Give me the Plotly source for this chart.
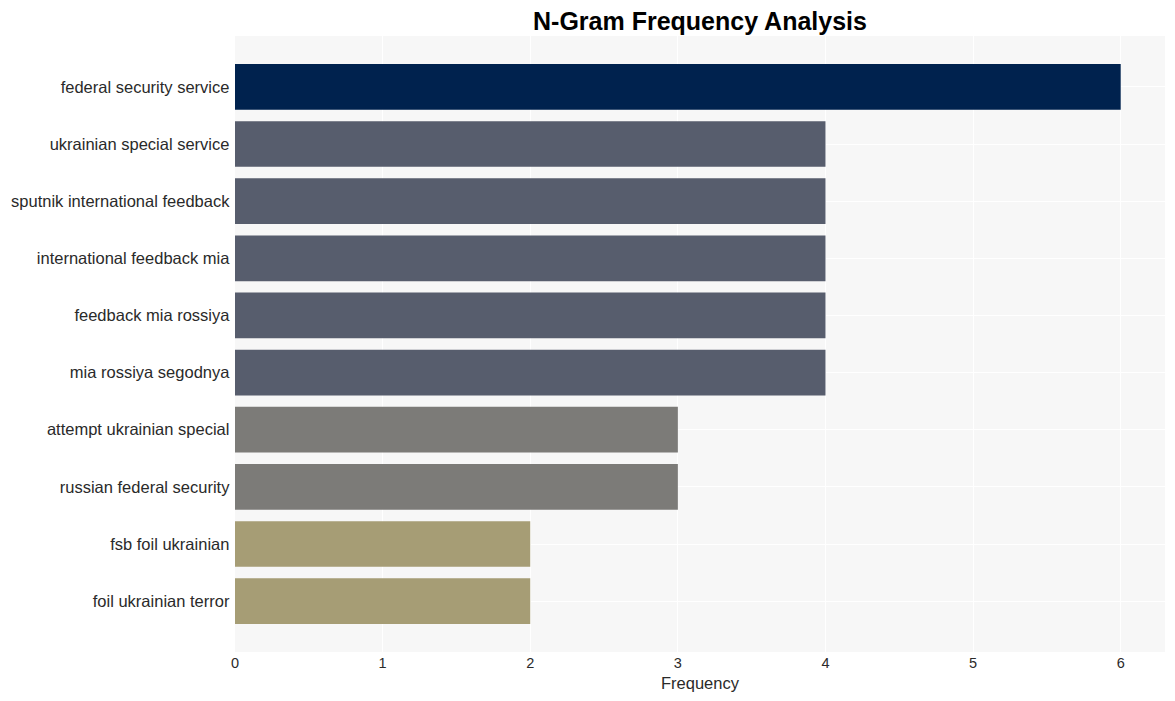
import plotly.graph_objects as go

ngrams = [
    "federal security service",
    "ukrainian special service",
    "sputnik international feedback",
    "international feedback mia",
    "feedback mia rossiya",
    "mia rossiya segodnya",
    "attempt ukrainian special",
    "russian federal security",
    "fsb foil ukrainian",
    "foil ukrainian terror",
]
frequency = [6, 4, 4, 4, 4, 4, 3, 3, 2, 2]

color_by_value = {6: "#00224e", 4: "#575d6d", 3: "#7c7b78", 2: "#a69d75"}
colors = [color_by_value[v] for v in frequency]

fig = go.Figure(
    go.Bar(
        x=frequency,
        y=ngrams,
        orientation="h",
        marker=dict(color=colors, line=dict(width=0)),
    )
)

fig.update_layout(
    width=1175,
    height=701,
    margin=dict(l=227, r=18, t=28, b=57),
    paper_bgcolor="white",
    plot_bgcolor="#f7f7f7",
    font=dict(family="Arial, Liberation Sans, sans-serif", color="#2a2a2a"),
    title=dict(
        text="<b>N-Gram Frequency Analysis</b>",
        x=0.5,
        xref="paper",
        xanchor="center",
        y=1 - 13 / 701,
        yref="container",
        yanchor="middle",
        font=dict(size=25, color="black"),
    ),
    showlegend=False,
)

fig.update_xaxes(
    title=dict(text="Frequency", font=dict(size=16.5), standoff=7),
    range=[0, 6.3],
    dtick=1,
    showgrid=True,
    gridcolor="white",
    gridwidth=1,
    zeroline=False,
    tickfont=dict(size=14.5),
    ticks="",
    automargin=False,
)
fig.update_yaxes(
    type="category",
    range=[9.89, -0.89],
    showgrid=True,
    gridcolor="white",
    tickfont=dict(size=16.5),
    ticks="",
    ticksuffix=" ",
    automargin=False,
)

fig.write_html("out.html")
